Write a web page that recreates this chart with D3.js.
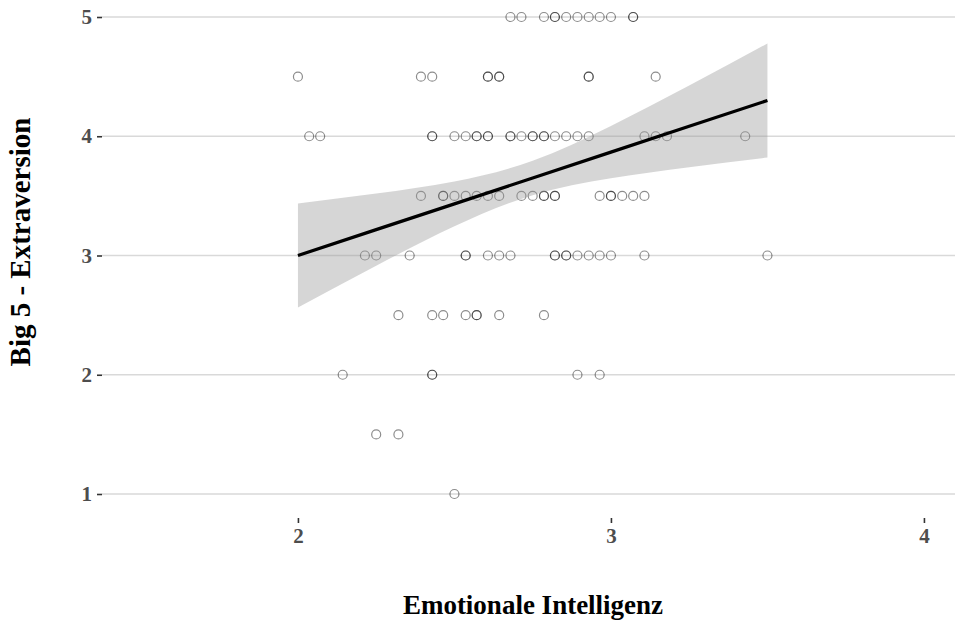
<!DOCTYPE html>
<html>
<head>
<meta charset="utf-8">
<script src="https://cdn.jsdelivr.net/npm/d3@7"></script>
<style>
  html, body { margin: 0; padding: 0; background: #fff; overflow: hidden; }
  svg { display: block; }
</style>
</head>
<body>
<svg id="chart" width="955" height="623"></svg>
<script>
// ---- data ----
// Emotional intelligence scores of the points, grouped by their extraversion level
const extraversionLevels = [5, 4.5, 4, 3.5, 3, 2.5, 2, 1.5, 1];
const eiAtE50 = [2.679, 2.714, 2.786, 2.821, 2.821, 2.857, 2.893, 2.929, 2.964, 3.000, 3.071, 3.071];
const eiAtE45 = [2.000, 2.393, 2.429, 2.607, 2.607, 2.643, 2.643, 2.929, 2.929, 3.143];
const eiAtE40 = [2.036, 2.071, 2.429, 2.429, 2.500, 2.536, 2.571, 2.571, 2.607, 2.607, 2.679, 2.679,
                 2.714, 2.750, 2.750, 2.786, 2.786, 2.821, 2.857, 2.893, 2.929, 3.107, 3.143, 3.179, 3.429];
const eiAtE35 = [2.393, 2.464, 2.464, 2.500, 2.536, 2.571, 2.607, 2.643, 2.714, 2.750, 2.786, 2.786,
                 2.821, 2.821, 2.964, 3.000, 3.000, 3.036, 3.071, 3.107];
const eiAtE30 = [2.214, 2.250, 2.357, 2.536, 2.536, 2.607, 2.643, 2.679, 2.821, 2.821, 2.857, 2.857,
                 2.893, 2.929, 2.964, 3.000, 3.107, 3.500];
const eiAtE25 = [2.321, 2.429, 2.464, 2.536, 2.571, 2.571, 2.643, 2.786];
const eiAtE20 = [2.143, 2.429, 2.429, 2.893, 2.964];
const eiAtE15 = [2.250, 2.321];
const eiAtE10 = [2.500];
const eiByLevel = [eiAtE50, eiAtE45, eiAtE40, eiAtE35, eiAtE30, eiAtE25, eiAtE20, eiAtE15, eiAtE10];

// linear fit with 95% confidence band
const fitX     = [2.00, 2.25, 2.50, 2.75, 3.00, 3.25, 3.50];
const fitY     = [3.000, 3.217, 3.433, 3.650, 3.867, 4.083, 4.300];
const fitLower = [2.564, 2.914, 3.245, 3.506, 3.648, 3.741, 3.822];
const fitUpper = [3.436, 3.520, 3.621, 3.794, 4.086, 4.425, 4.778];

const xTicks = [2, 3, 4];
const yTicks = [1, 2, 3, 4, 5];
const xTitle = "Emotionale Intelligenz";
const yTitle = "Big 5 - Extraversion";

// ---- build ----
const points = [];
extraversionLevels.forEach((lv, i) => eiByLevel[i].forEach(x => points.push({x: x, y: lv})));
const band = fitX.map((x, i) => ({x: x, y: fitY[i], lo: fitLower[i], hi: fitUpper[i]}));

const svg = d3.select("#chart");
const panel = {left: 102, right: 964, top: -7, bottom: 518};

const x = d3.scaleLinear().domain([1.374, 4.128]).range([panel.left, panel.right]);
const y = d3.scaleLinear().domain([1, 5]).range([494, 17]);

const font = "'Liberation Serif', 'Times New Roman', serif";

// horizontal grid lines
svg.append("g").selectAll("line").data(yTicks).join("line")
  .attr("x1", panel.left).attr("x2", panel.right)
  .attr("y1", d => y(d)).attr("y2", d => y(d))
  .attr("stroke", "#d9d9d9").attr("stroke-width", 1.6);

// y axis (ticks + labels, no domain line)
const yAxis = svg.append("g")
  .attr("transform", `translate(${panel.left},0)`)
  .call(d3.axisLeft(y).tickValues(yTicks).tickFormat(d3.format("d")).tickSize(5).tickPadding(5));
yAxis.select(".domain").remove();
yAxis.selectAll(".tick line").attr("stroke", "#333").attr("stroke-width", 1.6);
yAxis.selectAll(".tick text").attr("fill", "#4d4d4d")
  .style("font-family", font).style("font-weight", "bold").style("font-size", "21px");

// x axis
const xAxis = svg.append("g")
  .attr("transform", `translate(0,${panel.bottom})`)
  .call(d3.axisBottom(x).tickValues(xTicks).tickFormat(d3.format("d")).tickSize(5).tickPadding(5));
xAxis.select(".domain").remove();
xAxis.selectAll(".tick line").attr("stroke", "#333").attr("stroke-width", 1.6);
xAxis.selectAll(".tick text").attr("fill", "#4d4d4d")
  .style("font-family", font).style("font-weight", "bold").style("font-size", "21px");

// points (open circles, semi transparent)
svg.append("g").selectAll("circle").data(points).join("circle")
  .attr("cx", d => x(d.x)).attr("cy", d => y(d.y)).attr("r", 4.5)
  .attr("fill", "none").attr("stroke", "#000").attr("stroke-opacity", 0.45).attr("stroke-width", 1.2);

// confidence band
svg.append("path").datum(band)
  .attr("d", d3.area().x(d => x(d.x)).y0(d => y(d.lo)).y1(d => y(d.hi)).curve(d3.curveNatural))
  .attr("fill", "#999").attr("fill-opacity", 0.4);

// regression line
svg.append("path").datum(band)
  .attr("d", d3.line().x(d => x(d.x)).y(d => y(d.y)))
  .attr("fill", "none").attr("stroke", "#000").attr("stroke-width", 3.2);

// axis titles
svg.append("text")
  .attr("x", 533).attr("y", 614)
  .attr("text-anchor", "middle")
  .style("font-family", font).style("font-weight", "bold").style("font-size", "27px")
  .attr("fill", "#000").text(xTitle);

svg.append("text")
  .attr("transform", `translate(30,242) rotate(-90)`)
  .attr("text-anchor", "middle")
  .style("font-family", font).style("font-weight", "bold").style("font-size", "29px")
  .attr("fill", "#000").text(yTitle);
</script>
</body>
</html>
